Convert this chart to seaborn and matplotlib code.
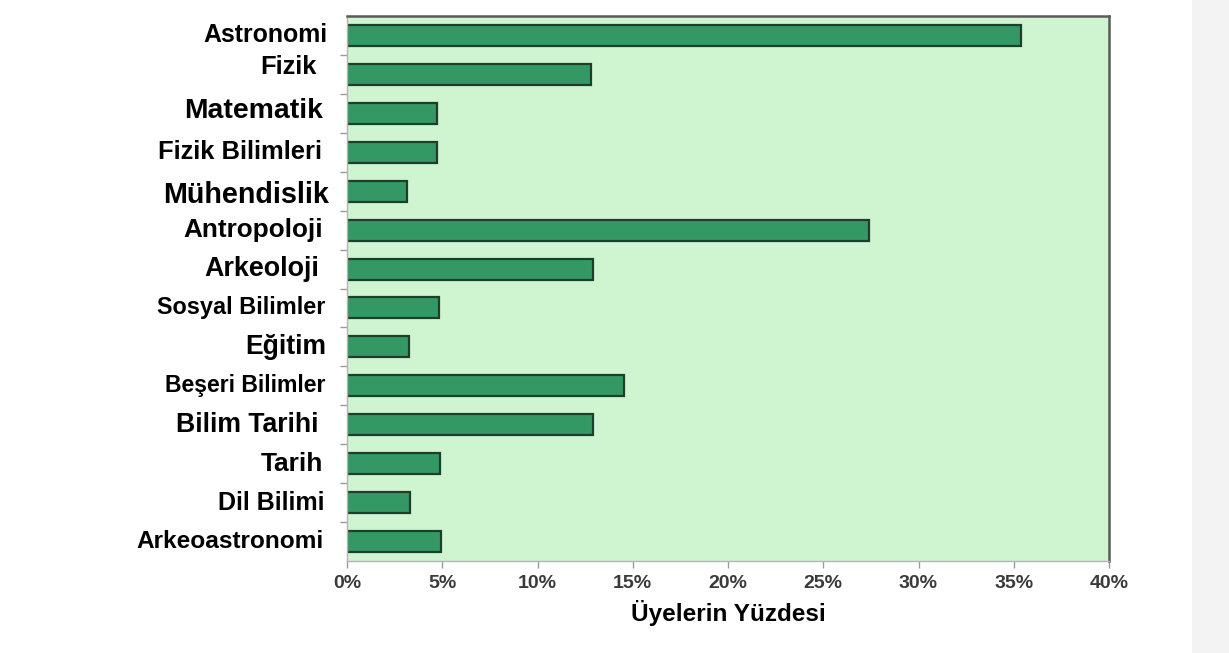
import matplotlib
matplotlib.use("Agg")
import matplotlib.pyplot as plt
import matplotlib.transforms as mtransforms
from matplotlib.patches import Rectangle
import seaborn as sns
import pandas as pd

# ----------------------------------
# Data
# ----------------------------------

categories = [
    "Astronomi", "Fizik", "Matematik", "Fizik Bilimleri", "Mühendislik",
    "Antropoloji", "Arkeoloji", "Sosyal Bilimler", "Eğitim",
    "Beşeri Bilimler", "Bilim Tarihi", "Tarih", "Dil Bilimi", "Arkeoastronomi",
]
percent = [35.4, 12.8, 4.75, 4.75, 3.15, 27.4, 12.9, 4.85, 3.25, 14.55, 12.9, 4.9, 3.3, 4.95]
x_ticks = [0, 5, 10, 15, 20, 25, 30, 35, 40]
x_label = "Üyelerin Yüzdesi"

# label look (the labels in the original have uneven sizes)
label_sizes = [17.9, 18.4, 20.4, 18.4, 20.7, 18.8, 19.4, 16.9, 19.1, 16.6, 19.2, 18.9, 18.0, 17.6]
label_right_px = [327, 317, 323, 322, 329, 323, 319, 325, 326, 325, 319, 323, 324, 324]
label_dy = [0, -0.18, -0.05, 0, 0.1, 0, 0, 0, 0, 0, 0, 0, 0, 0]

df = pd.DataFrame({"Alan": categories, "Yuzde": percent})

# ----------------------------------
# Figure
# ----------------------------------

sns.set_style("white")
plt.rcParams["font.family"] = ["Liberation Sans", "DejaVu Sans"]

W, H = 1229, 653
fig = plt.figure(figsize=(W / 100, H / 100), dpi=100)
fig.patch.set_facecolor("white")

# light grey strip on the right edge of the screenshot
fig.patches.append(Rectangle((1192 / W, 0), 1 - 1192 / W, 1, transform=fig.transFigure,
                             facecolor="#f3f3f3", edgecolor="none", zorder=0))

ax_left, ax_right = 347 / W, 1109 / W
ax_top, ax_bottom = 1 - 16 / H, 1 - 561 / H
ax = fig.add_axes([ax_left, ax_bottom, ax_right - ax_left, ax_top - ax_bottom])
ax.set_facecolor("#cff5d0")

sns.barplot(
    data=df, x="Yuzde", y="Alan", orient="h",
    color="#349864", saturation=1, edgecolor="#1f3d2b", linewidth=1.6,
    width=0.54, ax=ax,
)

ax.set_xlim(0, 40)
ax.set_ylim(len(categories) - 0.5, -0.5)

ax.set_xticks(x_ticks)
ax.set_xticklabels([f"{t}%" for t in x_ticks], fontsize=14, fontweight="bold", color="#3a3a3a")
ax.tick_params(axis="x", bottom=True, length=5, width=1, color="#9a9a9a", pad=5)

# y ticks between the bars, labels drawn as text
ax.set_yticks([i - 0.5 for i in range(1, len(categories))])
ax.set_yticklabels([])
ax.tick_params(axis="y", left=True, length=5, width=1, color="#9a9a9a")

trans = mtransforms.blended_transform_factory(fig.transFigure, ax.transData)
for i, name in enumerate(categories):
    ax.text(label_right_px[i] / W, i + label_dy[i], name, transform=trans,
            ha="right", va="center", fontsize=label_sizes[i], fontweight="bold",
            color="black")

ax.set_xlabel(x_label, fontsize=17.5, fontweight="bold", labelpad=6, color="black")
ax.set_ylabel("")

for side in ["top", "right"]:
    ax.spines[side].set_visible(True)
    ax.spines[side].set_color("#5a5a5a")
    ax.spines[side].set_linewidth(1.8)
for side in ["left", "bottom"]:
    ax.spines[side].set_visible(True)
    ax.spines[side].set_color("#b5b5b5")
    ax.spines[side].set_linewidth(1.0)

fig.savefig("out.png", dpi=100)
plt.close(fig)
